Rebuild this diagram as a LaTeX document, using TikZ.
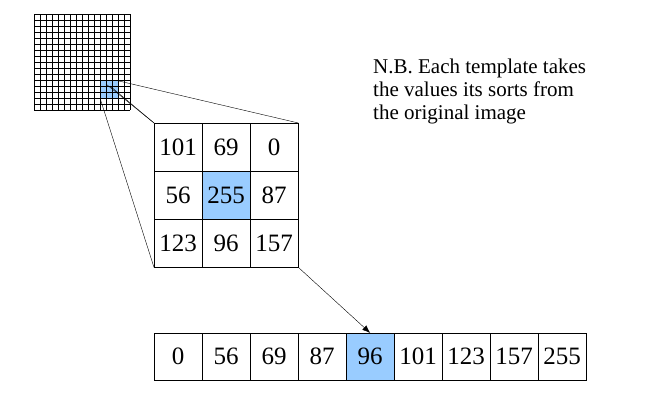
\documentclass[tikz,border=0pt]{standalone}
\usepackage{fontspec}
\setmainfont{Liberation Serif}
\usetikzlibrary{arrows.meta}
\definecolor{hl}{RGB}{153,204,255}
\begin{document}
\begin{tikzpicture}[x=1pt,y=-1pt,
  cell/.style={draw,minimum width=48pt,minimum height=48pt,inner sep=0pt,font=\fontsize{25}{25}\selectfont,anchor=north west},
  rcell/.style={draw,minimum width=48pt,minimum height=47pt,inner sep=0pt,font=\fontsize{25}{25}\selectfont,anchor=north west}]
\useasboundingbox (0,0) rectangle (648,415);
\fill[hl] (100,80) rectangle (118,98);
\foreach \k in {0,...,16}{
  \draw[line width=0.6pt] (34+6*\k,14) -- (34+6*\k,110);
  \draw[line width=0.6pt] (34,14+6*\k) -- (130,14+6*\k);}
\coordinate (pa) at (119,81);
\coordinate (pb) at (106,84);
\coordinate (pc) at (110,86);
\coordinate (pd) at (100,98);
\foreach \v [count=\i from 0] in {101,69,0,56,255,87,123,96,157}{
  \pgfmathtruncatemacro{\c}{mod(\i,3)}\pgfmathtruncatemacro{\r}{div(\i,3)}
  \ifnum\i=4
  \node[cell,fill=hl] (m\i) at (154+48*\c,123+48*\r) {\v};
  \else
  \node[cell] (m\i) at (154+48*\c,123+48*\r) {\v};
  \fi}
\draw (pa) -- (m2.north east);
\draw (pb) -- (m0.north west);
\draw (pc) -- (m0.north west);
\draw (pd) -- (m6.south west);
\foreach \v [count=\i from 0] in {0,56,69,87,96,101,123,157,255}{
  \ifnum\i=4
  \node[rcell,fill=hl] (s\i) at (154+48*\i,333) {\v};
  \else
  \node[rcell] (s\i) at (154+48*\i,333) {\v};
  \fi}
\draw[-{Latex[length=8pt,width=6pt]}] (m8.south east) -- (s4.north);
\node[anchor=north west,align=left,font=\fontsize{21}{23}\selectfont,inner sep=0pt] (nb) at (373,59)
 {N.B. Each template takes\\the values its sorts from\\the original image};
\end{tikzpicture}
\end{document}
